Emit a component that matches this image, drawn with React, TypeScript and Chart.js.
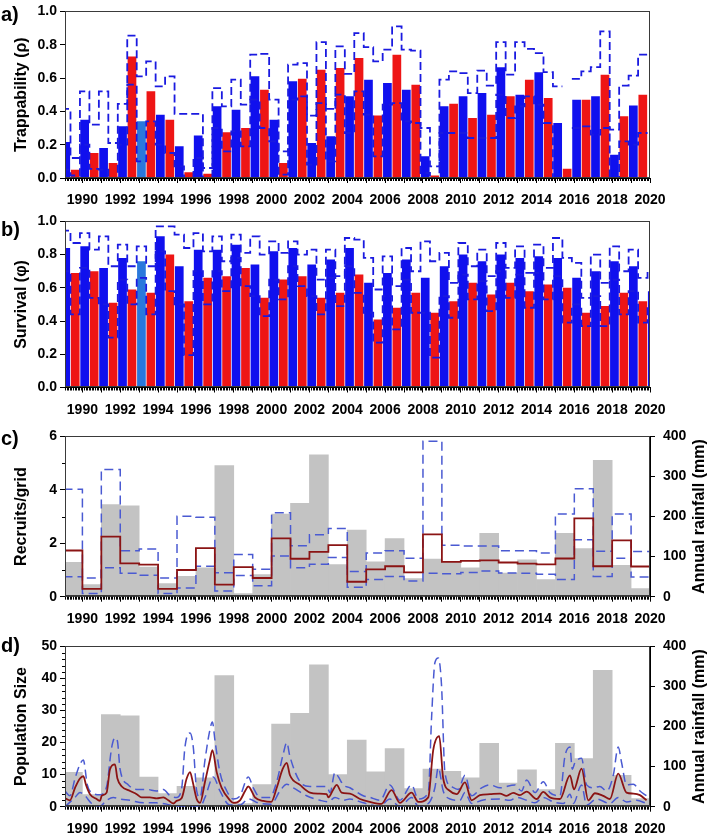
import React, { useEffect, useRef } from "react";
import { Chart, registerables } from "chart.js";

Chart.register(...registerables);
Chart.defaults.font.family = "'Liberation Sans', Arial, Helvetica, sans-serif";
Chart.defaults.color = "#000";

// ---------------- DATA ----------------
const X_MIN = 1989.08;
const X_MAX = 2020;
const YEAR_TICKS = [1990, 1991, 1992, 1993, 1994, 1995, 1996, 1997, 1998, 1999, 2000, 2001, 2002, 2003, 2004, 2005, 2006, 2007, 2008, 2009, 2010, 2011, 2012, 2013, 2014, 2015, 2016, 2017, 2018, 2019, 2020];

// season years: summer (Nov-Apr, blue) and winter (May-Oct, red)
const SEASON_YEARS = [1989, 1990, 1991, 1992, 1993, 1994, 1995, 1996, 1997, 1998, 1999, 2000, 2001, 2002, 2003, 2004, 2005, 2006, 2007, 2008, 2009, 2010, 2011, 2012, 2013, 2014, 2015, 2016, 2017, 2018, 2019, 2020];
const HIGHLIGHT_YEAR = 1993;

// a) Trappability
const trapSummer = [0.216, 0.35, 0.18, 0.31, 0.34, 0.38, 0.19, 0.255, 0.43, 0.41, 0.61, 0.35, 0.58, 0.21, 0.25, 0.49, 0.59, 0.57, 0.53, 0.13, 0.43, 0.49, 0.51, 0.665, 0.5, 0.635, 0.33, 0.47, 0.49, 0.14, 0.435, null];
const trapSummerUpper = [0.415, 0.52, 0.52, 0.445, 0.61, 0.55, 0.385, 0.385, 0.54, 0.59, 0.74, 0.47, 0.68, 0.375, 0.415, 0.625, 0.785, 0.77, 0.77, 0.3, 0.59, 0.63, 0.645, 0.815, 0.815, 0.75, 0.55, 0.595, 0.665, 0.29, 0.615, null];
const trapSummerLower = [0.05, 0.2, 0.05, 0.2, 0.1, 0.2, 0.07, 0.12, 0.3, 0.28, 0.47, 0.22, 0.47, 0.08, 0.1, 0.27, 0.38, 0.44, 0.34, 0.03, 0.27, 0.27, 0.24, 0.5, 0.43, 0.44, 0.0, 0.3, 0.26, 0.0, 0.2, null];
const trapWinter = [0.05, 0.15, 0.09, 0.73, 0.52, 0.35, 0.035, 0.025, 0.275, 0.3, 0.53, 0.09, 0.595, 0.65, 0.66, 0.72, 0.375, 0.74, 0.56, 0.015, 0.445, 0.36, 0.38, 0.49, 0.59, 0.48, 0.055, 0.47, 0.62, 0.37, 0.5, null];
const trapWinterUpper = [0.12, 0.32, 0.21, 0.855, 0.7, 0.61, 0.385, 0.06, 0.43, 0.44, 0.745, 0.16, 0.69, 0.815, 0.79, 0.87, 0.7, 0.91, 0.765, 0.07, 0.64, 0.51, 0.555, 0.62, 0.775, 0.635, null, 0.64, 0.88, 0.555, 0.74, null];
const trapWinterLower = [0.015, 0.055, 0.0, 0.56, 0.34, 0.15, 0.0, 0.0, 0.16, 0.19, 0.3, 0.02, 0.49, 0.45, 0.5, 0.52, 0.13, 0.45, 0.33, 0.0, 0.27, 0.24, 0.24, 0.36, 0.49, 0.33, null, 0.31, 0.3, 0.22, 0.27, null];

// b) Survival
const survSummer = [0.84, 0.85, 0.72, 0.78, 0.76, 0.91, 0.73, 0.83, 0.83, 0.86, 0.74, 0.82, 0.84, 0.74, 0.77, 0.84, 0.63, 0.69, 0.77, 0.66, 0.73, 0.8, 0.76, 0.8, 0.78, 0.79, 0.78, 0.66, 0.7, 0.76, 0.73, 0.58];
const survSummerUpper = [0.945, 0.93, 0.91, 0.86, 0.85, 0.97, 0.92, 0.93, 0.91, 0.92, 0.91, 0.88, 0.88, 0.83, 0.83, 0.9, 0.78, 0.79, 0.84, 0.88, 0.81, 0.87, 0.83, 0.87, 0.85, 0.86, 0.9, 0.75, 0.8, 0.85, 0.83, 0.7];
const survSummerLower = [0.7, 0.72, 0.5, 0.65, 0.66, 0.82, 0.5, 0.7, 0.7, 0.78, 0.55, 0.65, 0.73, 0.55, 0.66, 0.73, 0.45, 0.55, 0.65, 0.45, 0.55, 0.68, 0.64, 0.7, 0.68, 0.69, 0.67, 0.5, 0.55, 0.65, 0.58, 0.5];
const survWinter = [0.69, 0.7, 0.51, 0.59, 0.57, 0.8, 0.52, 0.66, 0.67, 0.72, 0.54, 0.65, 0.67, 0.54, 0.57, 0.68, 0.41, 0.48, 0.57, 0.45, 0.52, 0.63, 0.56, 0.63, 0.58, 0.62, 0.6, 0.45, 0.49, 0.57, 0.52, null];
const survWinterUpper = [0.87, 0.83, 0.73, 0.73, 0.73, 0.97, 0.84, 0.82, 0.76, 0.81, 0.8, 0.81, 0.8, 0.65, 0.67, 0.89, 0.59, 0.61, 0.7, 0.76, 0.63, 0.73, 0.67, 0.72, 0.69, 0.72, 0.78, 0.54, 0.63, 0.7, 0.66, null];
const survWinterLower = [0.44, 0.54, 0.3, 0.5, 0.44, 0.58, 0.195, 0.5, 0.58, 0.61, 0.43, 0.53, 0.61, 0.44, 0.49, 0.57, 0.27, 0.35, 0.45, 0.18, 0.42, 0.53, 0.46, 0.54, 0.48, 0.53, 0.39, 0.37, 0.37, 0.44, 0.39, null];

// c) Recruits and annual rainfall
const YEARS = [1989, 1990, 1991, 1992, 1993, 1994, 1995, 1996, 1997, 1998, 1999, 2000, 2001, 2002, 2003, 2004, 2005, 2006, 2007, 2008, 2009, 2010, 2011, 2012, 2013, 2014, 2015, 2016, 2017, 2018, 2019];
const rainfall = [86, 30, 230, 227, 74, 33, 51, 72, 327, 8, 55, 206, 233, 354, 80, 166, 87, 145, 45, 94, 88, 72, 158, 59, 92, 43, 158, 120, 340, 78, 20];
const recruits = [1.73, 0.29, 2.25, 1.25, 1.2, 0.29, 1.0, 1.82, 0.45, 1.11, 0.7, 2.18, 1.42, 1.68, 1.93, 0.56, 1.02, 1.14, 0.91, 2.33, 1.3, 1.34, 1.36, 1.28, 1.24, 1.21, 1.43, 2.93, 1.14, 2.11, 1.13];
const recruitsUpper = [4.02, 0.7, 4.76, 1.72, 1.79, 0.7, 3.01, 2.97, 0.9, 1.58, 1.03, 3.14, 1.91, 2.32, 2.55, 0.94, 1.64, 1.72, 1.44, 5.82, 1.93, 1.9, 1.9, 1.72, 1.72, 1.64, 3.1, 4.04, 1.7, 3.1, 1.69];
const recruitsLower = [0.75, 0.12, 1.08, 0.88, 0.8, 0.12, 0.33, 1.14, 0.21, 0.79, 0.41, 1.52, 1.08, 1.21, 1.47, 0.35, 0.64, 0.76, 0.59, 0.88, 0.86, 0.91, 0.96, 0.89, 0.88, 0.84, 0.64, 2.13, 0.76, 1.44, 0.74];

// d) Population size [time, value]
const popMean: [number, number][] = [[1989.08, 2.7], [1989.34, 2.0], [1989.61, 5.9], [1989.87, 8.8], [1990.05, 9.5], [1990.19, 6.8], [1990.4, 3.9], [1990.75, 2.4], [1990.93, 1.8], [1991.02, 3.4], [1991.28, 4.4], [1991.46, 11.7], [1991.72, 13.2], [1991.85, 8.8], [1992.08, 6.3], [1992.52, 4.9], [1992.87, 3.9], [1993.13, 2.9], [1993.57, 2.9], [1993.92, 2.6], [1994.28, 2.9], [1994.54, 2.0], [1994.81, 1.0], [1994.98, 1.8], [1995.25, 2.7], [1995.51, 8.8], [1995.69, 10.8], [1995.83, 7.8], [1996.04, 2.4], [1996.22, 1.2], [1996.48, 7.8], [1996.74, 14.6], [1996.87, 17.6], [1997.1, 10.7], [1997.36, 5.9], [1997.8, 2.0], [1997.98, 1.2], [1998.33, 2.0], [1998.6, 4.9], [1998.77, 6.3], [1999.12, 2.9], [1999.56, 1.8], [1999.98, 1.5], [2000.27, 5.9], [2000.58, 11.7], [2000.8, 13.7], [2000.97, 9.8], [2001.5, 6.8], [2002.03, 4.4], [2002.47, 4.1], [2002.91, 3.9], [2003.0, 2.9], [2003.26, 5.4], [2003.44, 6.8], [2003.7, 4.4], [2004.14, 4.1], [2004.67, 2.4], [2005.2, 1.5], [2005.81, 0.9], [2006.34, 5.2], [2006.78, 1.2], [2007.4, 4.4], [2007.75, 1.5], [2008.28, 2.9], [2008.54, 17.6], [2008.86, 22.0], [2009.07, 8.8], [2009.43, 4.9], [2009.78, 3.9], [2010.22, 7.6], [2010.57, 2.0], [2011.01, 3.6], [2011.54, 3.9], [2012.07, 4.1], [2012.42, 3.4], [2012.77, 4.3], [2013.12, 3.6], [2013.48, 4.7], [2014.01, 2.4], [2014.36, 4.6], [2014.71, 2.9], [2015.24, 2.4], [2015.77, 9.8], [2015.98, 5.4], [2016.38, 11.9], [2016.74, 2.0], [2017.09, 4.2], [2017.53, 3.4], [2017.88, 2.4], [2018.32, 10.3], [2018.76, 4.4], [2019.12, 4.1], [2019.47, 3.6], [2019.82, 2.0]];
const popUpper: [number, number][] = [[1989.08, 4.9], [1989.34, 3.4], [1989.61, 8.8], [1989.87, 13.2], [1990.05, 14.6], [1990.26, 6.8], [1990.58, 4.1], [1990.93, 3.7], [1991.28, 6.3], [1991.55, 18.6], [1991.72, 21.5], [1991.85, 20.5], [1991.99, 11.7], [1992.43, 6.8], [1992.87, 5.4], [1993.4, 5.4], [1993.92, 4.9], [1994.28, 5.4], [1994.63, 3.4], [1994.98, 2.9], [1995.25, 5.9], [1995.42, 18.6], [1995.69, 23], [1995.86, 18.6], [1996.04, 4.9], [1996.22, 2.9], [1996.48, 14.6], [1996.74, 24], [1996.87, 26.4], [1997.01, 20.5], [1997.27, 10.7], [1997.63, 4.9], [1997.98, 2.4], [1998.33, 3.4], [1998.77, 9.3], [1999.03, 5.9], [1999.39, 2.9], [1999.91, 2.9], [2000.27, 7.8], [2000.62, 16.6], [2000.8, 20], [2000.97, 15.6], [2001.5, 7.8], [2002.03, 6.3], [2002.56, 6.3], [2002.91, 6.3], [2003.09, 4.4], [2003.35, 10.7], [2003.53, 9.3], [2003.79, 6.8], [2004.14, 5.9], [2004.84, 3.4], [2005.2, 2.9], [2005.73, 2.0], [2006.25, 6.8], [2006.78, 2.0], [2007.4, 6.8], [2007.75, 2.4], [2008.28, 4.4], [2008.46, 28.3], [2008.63, 44.9], [2008.81, 46.4], [2008.98, 38], [2009.16, 10.7], [2009.51, 6.3], [2009.87, 5.4], [2010.22, 9.8], [2010.57, 3.4], [2011.1, 5.9], [2011.54, 6.8], [2012.07, 5.9], [2012.86, 6.8], [2013.21, 4.9], [2013.48, 8.3], [2013.92, 4.4], [2014.36, 7.8], [2014.71, 4.4], [2015.24, 3.4], [2015.5, 15.6], [2015.77, 18.6], [2015.89, 11.7], [2016.03, 13.7], [2016.38, 15.1], [2016.65, 6.8], [2017.0, 5.9], [2017.35, 6.3], [2017.71, 4.9], [2018.06, 9.8], [2018.32, 18.6], [2018.5, 13.7], [2018.76, 6.8], [2019.12, 7.0], [2019.47, 4.9], [2019.82, 3.4]];
const popLower: [number, number][] = [[1989.08, 0.0], [1989.61, 2.9], [1989.87, 4.4], [1990.14, 3.4], [1990.49, 1.0], [1990.93, 0.2], [1991.28, 2.0], [1991.63, 2.9], [1991.99, 2.4], [1992.52, 2.0], [1993.22, 1.2], [1993.92, 1.2], [1994.45, 0.8], [1994.98, 0.0], [1995.86, 0.0], [1996.22, 0.0], [1996.48, 2.9], [1996.92, 9.3], [1997.27, 4.9], [1997.8, 0.5], [1998.33, 0.5], [1998.77, 2.4], [1999.39, 1.0], [1999.98, 0.8], [2000.44, 4.9], [2000.8, 7.0], [2001.15, 5.9], [2001.85, 3.4], [2002.56, 2.0], [2003.0, 1.5], [2003.35, 2.9], [2003.79, 2.0], [2004.14, 2.4], [2004.84, 1.2], [2005.73, 0.2], [2006.25, 2.4], [2006.78, 0.0], [2007.4, 2.9], [2007.75, 0.2], [2008.28, 1.0], [2008.63, 5.9], [2008.81, 12.2], [2009.07, 4.9], [2009.43, 2.4], [2009.95, 2.0], [2010.22, 4.4], [2010.57, 1.0], [2011.19, 2.1], [2012.07, 2.4], [2012.6, 2.0], [2012.95, 2.9], [2013.48, 2.0], [2013.92, 1.2], [2014.36, 2.9], [2014.89, 1.5], [2015.42, 1.0], [2015.77, 3.9], [2015.95, 1.0], [2016.38, 6.8], [2016.65, 0.5], [2017.18, 2.4], [2017.88, 1.0], [2018.32, 2.9], [2018.76, 1.5], [2019.29, 2.0], [2019.82, 1.0]];

// ---------------- STYLE ----------------
const W = 709;
const BLUE = "#1010ee";
const LIGHT_BLUE = "#2a78dc";
const RED = "#ee1515";
const CI_BLUE = "#1a1ae0";
const CI_BLUE2 = "#4a5ad2";
const DARK_RED = "#8b1414";
const GRAY = "#c3c3c3";
const SUMMER_START = -0.13;
const WINTER_START = 0.37;
const SEASON_LEN = 0.5;

function seasonBars(summer: (number | null)[], winter: (number | null)[]) {
  const data: any[] = [];
  const colors: string[] = [];
  SEASON_YEARS.forEach((yr, i) => {
    data.push({ x: yr + SUMMER_START + SEASON_LEN / 2, y: summer[i] });
    colors.push(yr === HIGHLIGHT_YEAR ? LIGHT_BLUE : BLUE);
    data.push({ x: yr + WINTER_START + SEASON_LEN / 2, y: winter[i] });
    colors.push(RED);
  });
  return { data, colors };
}

function seasonSteps(summer: (number | null)[], winter: (number | null)[]) {
  const pts: any[] = [];
  SEASON_YEARS.forEach((yr, i) => {
    pts.push({ x: yr + SUMMER_START, y: summer[i] }, { x: yr + SUMMER_START + SEASON_LEN, y: summer[i] });
    pts.push({ x: yr + WINTER_START, y: winter[i] }, { x: yr + WINTER_START + SEASON_LEN, y: winter[i] });
  });
  return pts;
}

function yearSteps(vals: number[]) {
  const pts: any[] = [];
  YEARS.forEach((yr, i) => {
    pts.push({ x: yr, y: vals[i] }, { x: yr + 1, y: vals[i] });
  });
  return pts;
}

const pairs = (arr: [number, number][]) => arr.map(([x, y]) => ({ x, y }));

const decoPlugin = {
  id: "deco",
  afterDraw(chart: any, _args: any, opts: any) {
    const { ctx, chartArea: a } = chart;
    const xs = chart.scales.x;
    ctx.save();
    ctx.strokeStyle = "#000";
    ctx.lineWidth = 1;
    ctx.beginPath();
    for (let m = Math.ceil(xs.min * 12); m <= Math.floor(xs.max * 12); m++) {
      if (m % 12 === 0) continue;
      const px = Math.round(xs.getPixelForValue(m / 12)) + 0.5;
      ctx.moveTo(px, a.bottom);
      ctx.lineTo(px, a.bottom + 3);
    }
    const ys = chart.scales.y;
    (opts.yMinor || []).forEach((v: number) => {
      const py = Math.round(ys.getPixelForValue(v)) + 0.5;
      ctx.moveTo(a.left, py);
      ctx.lineTo(a.left - 3, py);
    });
    ctx.stroke();
    ctx.strokeStyle = "#3a3a3a";
    ctx.strokeRect(Math.round(a.left) + 0.5, Math.round(a.top) + 0.5, Math.round(a.right - a.left) - 1, Math.round(a.bottom - a.top) - 1);
    ctx.fillStyle = "#000";
    ctx.font = "bold 20px 'Liberation Sans', Arial, sans-serif";
    ctx.textAlign = "left";
    ctx.textBaseline = "middle";
    ctx.fillText(opts.label, 1, opts.labelY);
    if (opts.rightTitle) {
      ctx.translate(700, (a.top + a.bottom) / 2);
      ctx.rotate(-Math.PI / 2);
      ctx.textAlign = "center";
      ctx.font = "bold 16px 'Liberation Sans', Arial, sans-serif";
      ctx.fillText(opts.rightTitle, 0, 0);
    }
    ctx.restore();
  },
};

function xAxis(height: number) {
  return {
    type: "linear",
    min: X_MIN,
    max: X_MAX,
    offset: false,
    afterBuildTicks: (s: any) => {
      s.ticks = YEAR_TICKS.map((v) => ({ value: v }));
    },
    afterFit: (s: any) => {
      s.height = height;
    },
    ticks: {
      autoSkip: false,
      maxRotation: 0,
      minRotation: 0,
      padding: 9,
      color: "#000",
      font: { size: 14, weight: "bold" },
      callback: (v: any) => (Number(v) % 2 === 0 ? String(v) : ""),
    },
    grid: { offset: false, drawOnChartArea: false, drawTicks: true, tickLength: 5, color: "#000", tickColor: "#000" },
    border: { display: true, color: "#000", width: 1 },
  };
}

function yLeft(min: number, max: number, ticks: number[], fmt: (v: number) => string, title: string) {
  return {
    type: "linear",
    position: "left",
    min,
    max,
    afterBuildTicks: (s: any) => {
      s.ticks = ticks.map((v) => ({ value: v }));
    },
    afterFit: (s: any) => {
      s.width = 65;
    },
    ticks: { autoSkip: false, padding: 3, color: "#000", font: { size: 14, weight: "bold" }, callback: (v: any) => fmt(Number(v)) },
    grid: { drawOnChartArea: false, tickLength: 5, color: "#000", tickColor: "#000" },
    border: { display: true, color: "#000", width: 1 },
    title: { display: true, text: title, color: "#000", font: { size: 16, weight: "bold" }, padding: { top: 12, bottom: 0 } },
  };
}

function yRight() {
  return {
    type: "linear",
    position: "right",
    min: 0,
    max: 400,
    afterBuildTicks: (s: any) => {
      s.ticks = [0, 100, 200, 300, 400].map((v) => ({ value: v }));
    },
    afterFit: (s: any) => {
      s.width = 59;
    },
    ticks: { autoSkip: false, padding: 8, color: "#000", font: { size: 14, weight: "bold" } },
    grid: { drawOnChartArea: false, tickLength: 5, color: "#000", tickColor: "#000" },
    border: { display: true, color: "#000", width: 1 },
  };
}

const baseOpts = {
  responsive: false,
  animation: false,
  devicePixelRatio: 1,
  events: [],
};

function dashed(data: any[], color: string, dash: number[], width: number, yAxisID = "y", extra: any = {}) {
  return {
    type: "line",
    data,
    yAxisID,
    borderColor: color,
    borderWidth: width,
    borderDash: dash,
    pointRadius: 0,
    fill: false,
    spanGaps: false,
    order: 1,
    ...extra,
  };
}

function seasonalConfig(summer: any, winter: any, sU: any, wU: any, sL: any, wL: any, title: string, label: string, labelY: number, xH: number) {
  const bars = seasonBars(summer, winter);
  return {
    type: "bar",
    data: {
      datasets: [
        { type: "bar", data: bars.data, backgroundColor: bars.colors, borderWidth: 0, barPercentage: 0.92, categoryPercentage: 1, order: 2 },
        dashed(seasonSteps(sU, wU), CI_BLUE, [8, 4], 1.8),
        dashed(seasonSteps(sL, wL), CI_BLUE, [8, 4], 1.8),
      ],
    },
    options: {
      ...baseOpts,
      layout: { padding: { top: 7, right: 59, left: 0, bottom: 0 } },
      plugins: { legend: { display: false }, tooltip: { enabled: false }, deco: { label, labelY, yMinor: [] } },
      scales: {
        x: xAxis(xH),
        y: yLeft(0, 1, [0, 0.2, 0.4, 0.6, 0.8, 1.0], (v) => v.toFixed(1), title),
      },
    },
    plugins: [decoPlugin],
  };
}

function configA() {
  return seasonalConfig(trapSummer, trapWinter, trapSummerUpper, trapWinterUpper, trapSummerLower, trapWinterLower, "Trappability (\u03C1)", "a)", 15, 32);
}
function configB() {
  return seasonalConfig(survSummer, survWinter, survSummerUpper, survWinterUpper, survSummerLower, survWinterLower, "Survival (\u03C6)", "b)", 20, 32.5);
}

function rainBars() {
  return {
    type: "bar",
    data: YEARS.map((yr, i) => ({ x: yr + 0.5, y: rainfall[i] })),
    yAxisID: "y2",
    backgroundColor: GRAY,
    borderWidth: 0,
    barPercentage: 1,
    categoryPercentage: 1,
    order: 5,
  };
}

function configC() {
  return {
    type: "bar",
    data: {
      datasets: [
        rainBars(),
        dashed(yearSteps(recruitsUpper), CI_BLUE2, [9, 5], 1.5),
        dashed(yearSteps(recruitsLower), CI_BLUE2, [9, 5], 1.5),
        dashed(yearSteps(recruits), DARK_RED, [], 1.8, "y", { order: 0 }),
      ],
    },
    options: {
      ...baseOpts,
      layout: { padding: { top: 6, right: 0, left: 0, bottom: 0 } },
      plugins: { legend: { display: false }, tooltip: { enabled: false }, deco: { label: "c)", labelY: 19.5, yMinor: [1, 3, 5], rightTitle: "Annual rainfall (mm)" } },
      scales: {
        x: xAxis(33.3),
        y: yLeft(0, 6, [0, 2, 4, 6], (v) => String(v), "Recruits/grid"),
        y2: yRight(),
      },
    },
    plugins: [decoPlugin],
  };
}

function configD() {
  const smooth = { cubicInterpolationMode: "monotone" };
  return {
    type: "bar",
    data: {
      datasets: [
        rainBars(),
        dashed(pairs(popUpper), CI_BLUE2, [9, 5], 1.5, "y", smooth),
        dashed(pairs(popLower), CI_BLUE2, [9, 5], 1.5, "y", smooth),
        dashed(pairs(popMean), DARK_RED, [], 1.8, "y", { ...smooth, order: 0 }),
      ],
    },
    options: {
      ...baseOpts,
      layout: { padding: { top: 6, right: 0, left: 0, bottom: 0 } },
      plugins: { legend: { display: false }, tooltip: { enabled: false }, deco: { label: "d)", labelY: 16.5, yMinor: [2, 4, 6, 8, 12, 14, 16, 18, 22, 24, 26, 28, 32, 34, 36, 38, 42, 44, 46, 48], rightTitle: "Annual rainfall (mm)" } },
      scales: {
        x: xAxis(27.3),
        y: yLeft(0, 50, [0, 10, 20, 30, 40, 50], (v) => String(v), "Population Size"),
        y2: yRight(),
      },
    },
    plugins: [decoPlugin],
  };
}

function Panel({ top, height, make }: { top: number; height: number; make: () => any }) {
  const ref = useRef<HTMLCanvasElement>(null);
  useEffect(() => {
    const chart = new Chart(ref.current as HTMLCanvasElement, make());
    return () => chart.destroy();
  }, []);
  return <canvas ref={ref} width={W} height={height} style={{ position: "absolute", left: 0, top, width: W, height }} />;
}

export default function App() {
  return (
    <div style={{ position: "absolute", left: 0, top: 0, width: W, height: 834, background: "#fff", overflow: "hidden" }}>
      <Panel top={0} height={210} make={configA} />
      <Panel top={210} height={210} make={configB} />
      <Panel top={420} height={210} make={configC} />
      <Panel top={630} height={204} make={configD} />
    </div>
  );
}
